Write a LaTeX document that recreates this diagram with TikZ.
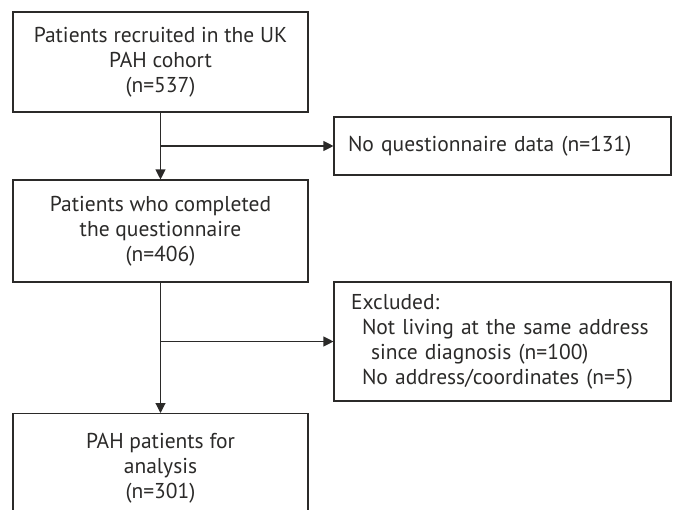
\documentclass[tikz,border=0pt]{standalone}
\usepackage{fontspec}
\setmainfont{PT Sans}
\usetikzlibrary{arrows.meta}
\definecolor{ink}{HTML}{2B2A29}
\tikzset{every picture/.style={line width=1.1pt}}

\begin{document}
\begin{tikzpicture}[x=1pt,y=1pt,yscale=-1,xscale=1,
  box/.style={draw=ink,text=ink,inner sep=0pt,minimum width=295pt,align=center,
    font=\fontsize{21.5}{25}\selectfont},
  sidebox/.style={draw=ink,text=ink,inner sep=0pt,text width=337pt,align=left,
    font=\fontsize{21.5}{25}\selectfont},
  flow/.style={draw=ink,-{Triangle[length=10pt,width=10pt]}}]
\clip (0,0) rectangle (675,509);
\useasboundingbox (0,0) rectangle (675,509);

% Left column
\node [box,minimum height=100pt] (recruited) at (160.5,62) {Patients recruited in the UK\\PAH cohort\\(n=537)};
\node [box,minimum height=102pt] (completed) at (160.5,231) {Patients who completed\\the questionnaire\\(n=406)};
\node [box,minimum height=110pt,anchor=north] (analysis) at (160.5,413) {PAH patients for\\analysis\\(n=301)};

% Right column
\node [sidebox,minimum height=58pt] (nodata) at (502.5,146) {\hspace*{14pt}No questionnaire data (n=131)};
\node [sidebox,minimum height=119pt] (excluded) at (502.5,341.5) {\hspace*{17pt}Excluded:\\
  \hspace*{28pt}Not living at the same address\\
  \hspace*{37pt}since diagnosis (n=100)\\
  \hspace*{28pt}No address/coordinates (n=5)};

% Connectors
\coordinate (split1) at (recruited.south |- nodata.west);
\coordinate (split2) at (completed.south |- excluded.west);
\draw [flow] (recruited.south) -- (completed.north);
\draw [flow] (split1) -- (nodata.west);
\draw [flow] (completed.south) -- (analysis.north);
\draw [flow] (split2) -- (excluded.west);

\end{tikzpicture}
\end{document}
